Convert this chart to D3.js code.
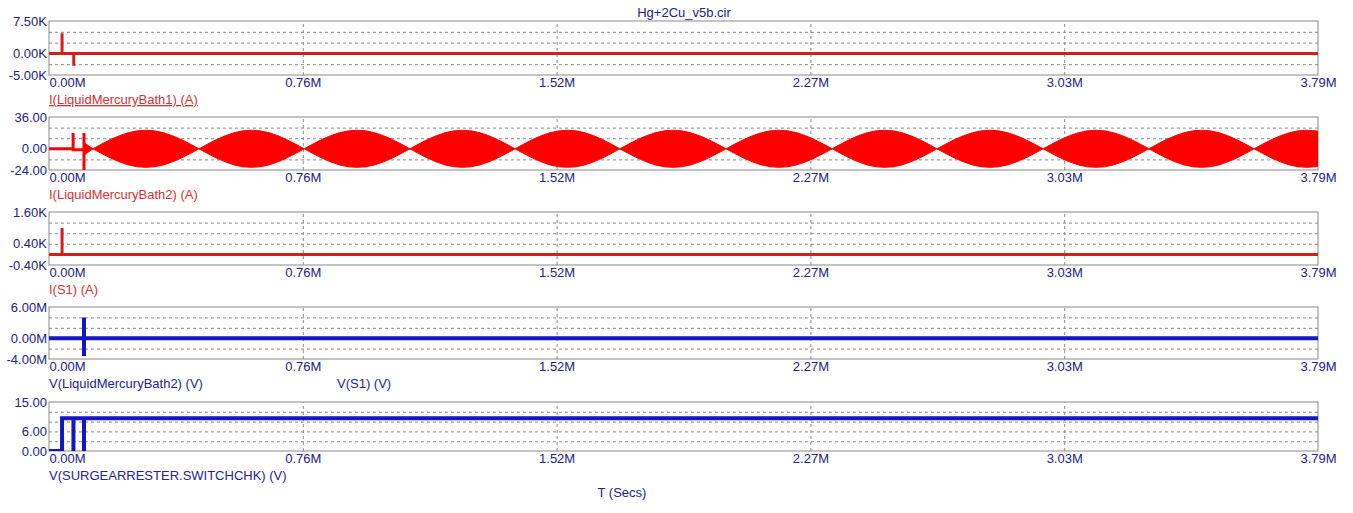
<!DOCTYPE html>
<html lang="en">
  <head>
    <meta charset="utf-8" />
    <title>Hg+2Cu_v5b.cir</title>
    <style>
      body { margin: 0; background: #fff; }
      svg text { font-family: "Liberation Sans", Arial, sans-serif; font-size: 13px; }
      .grid line { stroke: #8a8a8a; stroke-width: 1px; stroke-dasharray: 3,3; }
      .grid path { display: none; }
      .frame { fill: none; stroke: #8a8a8a; stroke-width: 1px; }
    </style>
  </head>
  <body>
    <div id="vis"></div>
    <script src="https://d3js.org/d3.v7.min.js"></script>
    <script>
      // x axis (time, shown in "M")
      const tEnd = 3.79;
      const xTicks = [0, 0.758, 1.516, 2.274, 3.032, 3.79];
      const xTickLabels = ["0.00M", "0.76M", "1.52M", "2.27M", "3.03M", "3.79M"];

      // panel 1: I(LiquidMercuryBath1) (A)
      const bath1T = [0, 0.039, 0.039, 0.039, 0.074, 0.074, 0.074, 3.79];
      const bath1V = [0, 0, 4650, 0, 0, -2850, 0, 0];

      // panel 2: I(LiquidMercuryBath2) (A) - start-up trace then beating envelope
      const bath2T = [0, 0.072, 0.072, 0.072, 0.1045, 0.1045, 0.1045];
      const bath2V = [0, 0, 18, -1, -1, 18, -24];
      const beatNodes = [0.131, 0.448, 0.762, 1.078, 1.392, 1.705, 2.022, 2.339, 2.652, 2.969, 3.285, 3.599, 3.915];
      // envelope amplitude read at twelfths of one lobe
      const lobeShape = [0, 5.4, 10.5, 14.8, 18.2, 20.3, 21, 20.3, 18.2, 14.8, 10.5, 5.4, 0];
      const startFanT = [0.1045, 0.118];
      const startFanA = [7, 3.5];

      // panel 3: I(S1) (A)
      const s1T = [0, 0.039, 0.039, 0.039, 3.79];
      const s1V = [0, 0, 1000, 0, 0];

      // panel 4: V(LiquidMercuryBath2) (V)
      const vBathT = [0, 0.1045, 0.1045, 0.1045, 0.1045, 3.79];
      const vBathV = [0, 0, 4.0e6, -3.4e6, 0, 0];

      // panel 5: V(SURGEARRESTER.SWITCHCHK) (V)
      const swT = [0, 0.039, 0.039, 0.073, 0.073, 0.073, 0.1045, 0.1045, 0.1045, 3.79];
      const swV = [0, 0, 10, 10, 0, 10, 10, 0, 10, 10];

      const panelDefs = [
        { top: 21, bottom: 75, domain: [-5000, 7500], step: 2500, yTicks: [7500, 0, -5000], fmt: d => (d / 1000).toFixed(2) + "K",
          label: "I(LiquidMercuryBath1) (A)", labelColor: "#d93131", underline: true },
        { top: 117, bottom: 170, domain: [-24, 36], step: 12, yTicks: [36, 0, -24], fmt: d => d.toFixed(2),
          label: "I(LiquidMercuryBath2) (A)", labelColor: "#e03030" },
        { top: 212, bottom: 265, domain: [-400, 1600], step: 400, yTicks: [1600, 400, -400], fmt: d => (d / 1000).toFixed(2) + "K",
          label: "I(S1) (A)", labelColor: "#e03030" },
        { top: 307, bottom: 359, domain: [-4e6, 6e6], step: 2e6, yTicks: [6e6, 0, -4e6], fmt: d => (d / 1e6).toFixed(2) + "M",
          label: "V(LiquidMercuryBath2) (V)", labelColor: "#2323a0", extra: { text: "V(S1) (V)", x: 337 } },
        { top: 402, bottom: 451, domain: [0, 15], step: 3, yTicks: [15, 6, 0], fmt: d => d.toFixed(2),
          label: "V(SURGEARRESTER.SWITCHCHK) (V)", labelColor: "#2323a0" }
      ];

      const navy = "#22228c";
      const redLine = "#d41e1e";
      const blueLine = "#1515c4";
      const left = 49, right = 1318;
      const font = "Liberation Sans, Arial, sans-serif";

      const svg = d3.select("#vis").append("svg").attr("width", 1353).attr("height", 513);
      const x = d3.scaleLinear().domain([0, tEnd]).range([left, right]);

      svg.append("text").attr("x", 684).attr("y", 17).attr("text-anchor", "middle")
        .attr("fill", navy).text("Hg+2Cu_v5b.cir");

      const panels = panelDefs.map((p, i) => {
        const y = d3.scaleLinear().domain(p.domain).range([p.bottom, p.top]);
        const g = svg.append("g").attr("class", "panel");
        const clipId = "clip" + i;
        svg.append("clipPath").attr("id", clipId).append("rect")
          .attr("x", left).attr("y", p.top).attr("width", right - left).attr("height", p.bottom - p.top);

        // grid
        const hLines = d3.range(p.domain[0] + p.step, p.domain[1] - p.step / 2, p.step);
        g.append("g").attr("class", "grid").attr("transform", `translate(${left},0)`)
          .call(d3.axisLeft(y).tickValues(hLines).tickSize(-(right - left)).tickFormat(""));
        g.append("g").attr("class", "grid").attr("transform", `translate(0,${p.bottom})`)
          .call(d3.axisBottom(x).tickValues(xTicks.slice(1, -1)).tickSize(-(p.bottom - p.top)).tickFormat(""));
        g.append("rect").attr("class", "frame").attr("x", left).attr("y", p.top)
          .attr("width", right - left).attr("height", p.bottom - p.top);

        // y labels
        const ya = g.append("g").attr("transform", `translate(${left - 1},0)`)
          .call(d3.axisLeft(y).tickValues(p.yTicks).tickSize(0).tickPadding(1).tickFormat(p.fmt));
        ya.attr("font-size", 13).attr("font-family", font);
        ya.select(".domain").remove();
        ya.selectAll("text").attr("fill", navy);

        // x labels
        const xa = g.append("g").attr("transform", `translate(0,${p.bottom + 3})`)
          .call(d3.axisBottom(x).tickValues(xTicks).tickSize(0).tickPadding(0)
            .tickFormat((d, j) => xTickLabels[j]));
        xa.attr("font-size", 13).attr("font-family", font);
        xa.select(".domain").remove();
        xa.selectAll("text").attr("fill", navy);
        xa.selectAll(".tick").filter((d, j) => j === 0).select("text").attr("text-anchor", "start");

        const lab = svg.append("text").attr("x", left).attr("y", p.bottom + 29)
          .attr("fill", p.labelColor).text(p.label);
        if (p.underline) lab.attr("text-decoration", "underline");
        if (p.extra) svg.append("text").attr("x", p.extra.x).attr("y", p.bottom + 29)
          .attr("fill", p.labelColor).text(p.extra.text);

        const plot = svg.append("g").attr("clip-path", `url(#${clipId})`);
        return { y, plot };
      });

      function drawLine(panel, ts, vs, color, width) {
        const line = d3.line().x(d => x(d[0])).y(d => panel.y(d[1]));
        panel.plot.append("path").datum(ts.map((t, k) => [t, vs[k]]))
          .attr("d", line).attr("fill", "none").attr("stroke", color)
          .attr("stroke-width", width).attr("stroke-linejoin", "miter");
      }

      drawLine(panels[0], bath1T, bath1V, redLine, 3);

      // panel 2 envelope
      const env = [];
      startFanT.forEach((t, k) => env.push([t, startFanA[k]]));
      beatNodes.slice(0, -1).forEach((n0, k) => {
        const n1 = beatNodes[k + 1];
        lobeShape.forEach((a, j) => {
          if (k > 0 && j === 0) return;
          env.push([n0 + (n1 - n0) * j / (lobeShape.length - 1), a]);
        });
      });
      const area = d3.area().x(d => x(d[0]))
        .y0(d => panels[1].y(-d[1])).y1(d => panels[1].y(d[1]));
      panels[1].plot.append("path").datum(env).attr("d", area).attr("fill", "#ff0000")
        .attr("stroke", "#ff0000").attr("stroke-width", 1);
      drawLine(panels[1], bath2T, bath2V, "#ff0000", 3);

      drawLine(panels[2], s1T, s1V, redLine, 3);
      drawLine(panels[3], vBathT, vBathV, blueLine, 4);
      drawLine(panels[4], swT, swV, blueLine, 4);

      svg.append("text").attr("x", 622).attr("y", 497).attr("text-anchor", "middle")
        .attr("fill", navy).text("T (Secs)");
    </script>
  </body>
</html>
